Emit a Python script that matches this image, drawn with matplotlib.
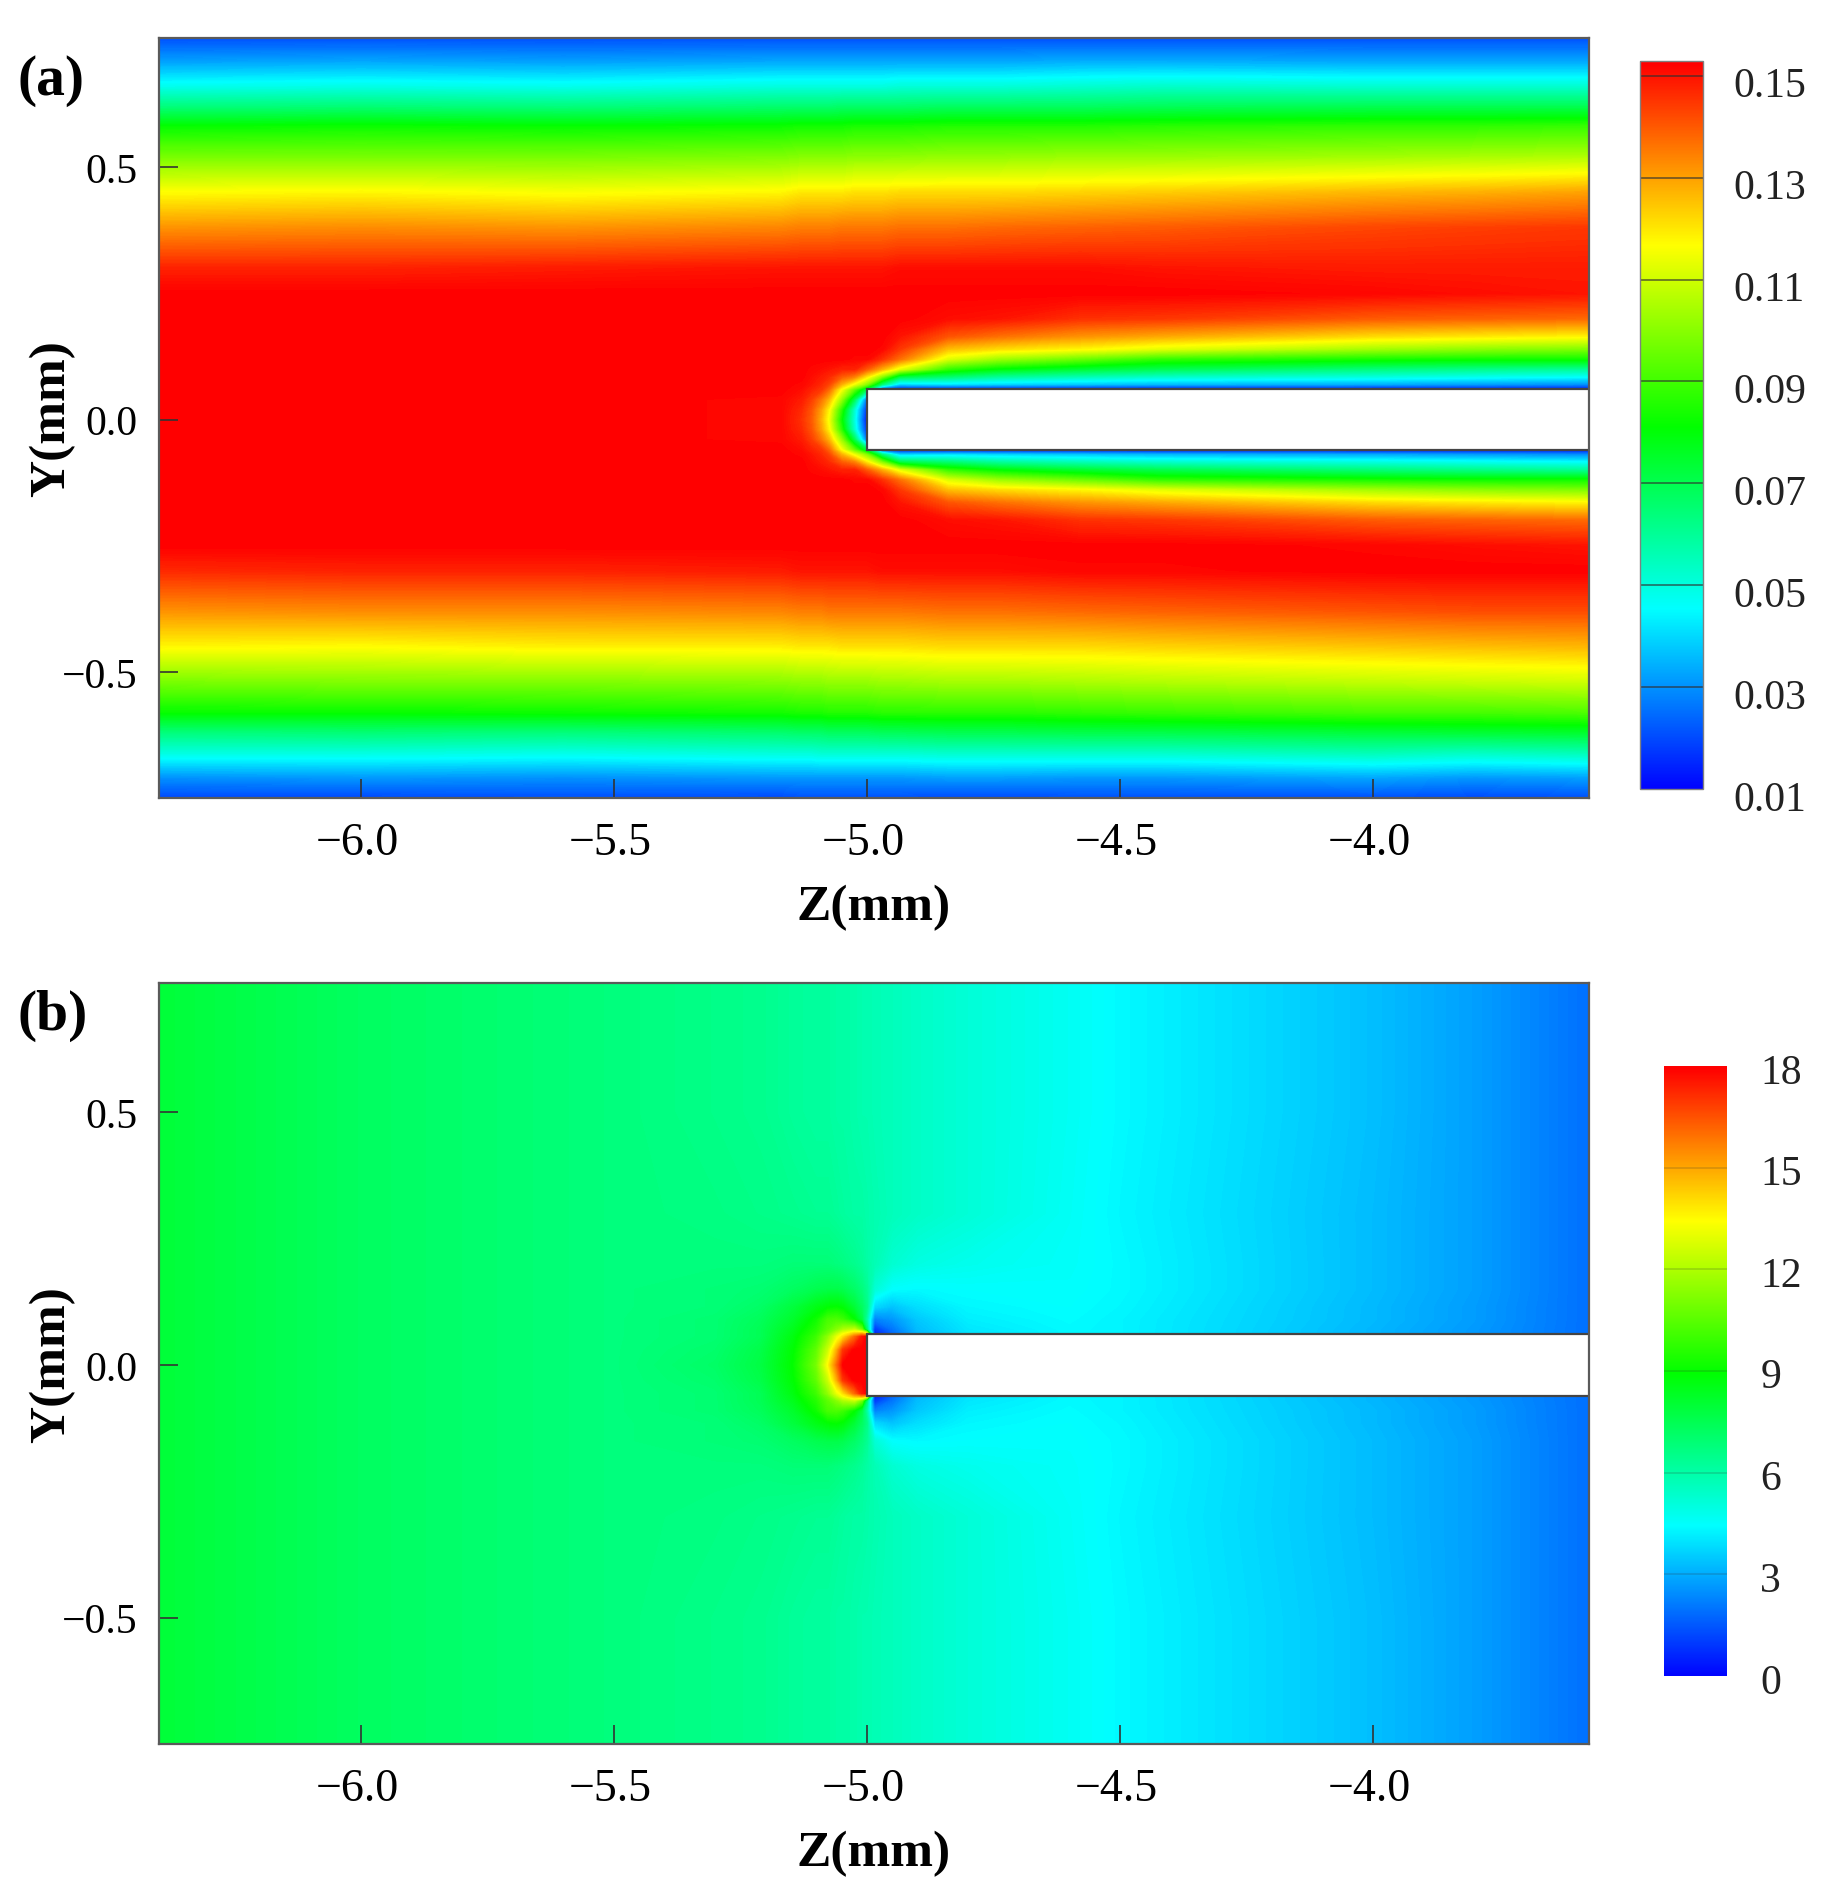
import numpy as np
import matplotlib
matplotlib.use("Agg")
import matplotlib.pyplot as plt
from matplotlib import colors
from matplotlib.cm import ScalarMappable
from matplotlib.patches import Rectangle
from matplotlib.transforms import ScaledTranslation

plt.rcParams['font.family'] = ['Liberation Serif', 'DejaVu Serif']

W, H = 1830, 1899

# ---------- panel (a), values ----------
z_a = [-6.4, -6.0, -5.6, -5.17, -5.13, -5.11, -5.09, -5.075, -5.05, -5.025, -5.0, -4.97, -4.935,
       -4.84, -4.74, -4.58, -4.42, -4.0, -3.8, -3.573]

y_a_bottom = [-0.75, -0.71, -0.66, -0.62, -0.58, -0.52, -0.45, -0.38, -0.30]
v_a_bottom = [
    [.020, .020, .021, .020, .021, .021, .021, .021, .021, .021, .021, .021, .021, .020, .020, .021, .021, .021, .020, .021],
    [.030, .031, .030, .031, .031, .031, .031, .031, .031, .031, .031, .031, .031, .032, .032, .031, .031, .033, .031, .032],
    [.050, .050, .049, .051, .051, .051, .052, .052, .052, .052, .052, .052, .052, .053, .053, .053, .053, .056, .054, .056],
    [.064, .065, .064, .066, .067, .067, .067, .068, .068, .068, .068, .069, .069, .070, .070, .071, .071, .073, .074, .075],
    [.082, .082, .083, .084, .085, .085, .085, .086, .086, .086, .086, .087, .087, .087, .087, .088, .089, .091, .091, .092],
    [.098, .099, .099, .100, .101, .101, .101, .102, .102, .102, .102, .103, .103, .104, .104, .105, .106, .108, .109, .110],
    [.118, .117, .119, .119, .120, .120, .120, .120, .121, .121, .121, .121, .121, .122, .122, .122, .123, .125, .126, .127],
    [.132, .133, .133, .134, .135, .135, .135, .136, .136, .136, .136, .136, .136, .137, .137, .138, .139, .141, .142, .142],
    [.147, .148, .148, .149, .150, .150, .150, .150, .150, .150, .150, .151, .151, .151, .151, .152, .152, .153, .153, .153],
]

# wake of the blade, used for both sides of y = 0
y_a_wake = [0.0, 0.02, 0.04, 0.06, 0.07, 0.085, 0.10, 0.12, 0.14, 0.165, 0.20, 0.25]
v_a_wake = [
    [.153, .153, .153, .152, .146, .140, .128, .115, .082, .050, .012, .012, .012, .012, .012, .012, .012, .012, .012, .012],
    [.153, .153, .153, .152, .147, .141, .130, .118, .087, .052, .016, .012, .012, .012, .012, .012, .012, .012, .012, .012],
    [.153, .153, .153, .152, .149, .144, .136, .127, .102, .070, .025, .012, .012, .012, .012, .012, .012, .012, .012, .012],
    [.153, .153, .153, .153, .151, .148, .145, .138, .116, .095, .070, .020, .012, .012, .012, .012, .012, .012, .012, .012],
    [.153, .153, .153, .153, .152, .150, .147, .143, .128, .115, .100, .065, .040, .042, .040, .038, .036, .034, .032, .030],
    [.153, .153, .153, .153, .153, .151, .149, .147, .140, .135, .120, .100, .072, .066, .060, .056, .053, .050, .048, .046],
    [.153, .153, .153, .153, .153, .152, .151, .150, .148, .148, .140, .128, .113, .088, .080, .074, .070, .064, .062, .060],
    [.153, .153, .153, .153, .153, .153, .153, .153, .153, .152, .152, .146, .137, .112, .103, .096, .088, .084, .083, .083],
    [.153, .153, .153, .153, .153, .153, .153, .153, .153, .153, .153, .152, .145, .126, .122, .118, .113, .104, .101, .099],
    [.153, .153, .153, .153, .153, .153, .153, .153, .153, .153, .153, .153, .150, .141, .137, .132, .129, .122, .120, .118],
    [.153, .153, .153, .153, .153, .153, .153, .153, .153, .153, .153, .153, .153, .151, .150, .146, .145, .140, .139, .138],
    [.153, .153, .153, .153, .153, .153, .153, .153, .153, .153, .153, .153, .153, .153, .153, .153, .153, .152, .151, .150],
]

y_a_top = [0.30, 0.38, 0.45, 0.52, 0.58, 0.62, 0.66, 0.71, 0.756]
v_a_top = [
    [.148, .148, .149, .150, .150, .150, .150, .150, .150, .150, .150, .150, .151, .151, .151, .151, .150, .149, .149, .149],
    [.132, .133, .132, .134, .135, .135, .135, .135, .136, .136, .136, .136, .137, .137, .138, .139, .140, .143, .144, .145],
    [.117, .118, .116, .118, .120, .120, .120, .120, .120, .121, .121, .121, .122, .122, .122, .123, .124, .127, .128, .130],
    [.098, .098, .098, .099, .100, .100, .100, .100, .100, .101, .101, .101, .101, .102, .102, .103, .103, .104, .105, .106],
    [.082, .083, .082, .083, .084, .084, .084, .084, .084, .085, .085, .085, .085, .086, .086, .086, .087, .088, .088, .089],
    [.064, .065, .064, .066, .066, .066, .066, .066, .067, .067, .067, .067, .067, .068, .068, .068, .069, .070, .070, .070],
    [.048, .049, .048, .050, .050, .050, .050, .050, .050, .050, .050, .050, .051, .051, .051, .052, .053, .052, .052, .052],
    [.032, .033, .032, .033, .033, .033, .033, .033, .033, .033, .033, .033, .033, .033, .033, .034, .034, .033, .033, .033],
    [.021, .021, .021, .021, .021, .021, .021, .021, .021, .021, .021, .021, .021, .021, .021, .021, .021, .021, .021, .021],
]

# ---------- panel (b), values ----------
z_b = [-6.4, -6.0, -5.5, -5.3, -5.21, -5.146, -5.10, -5.077, -5.06, -5.047, -5.025, -5.01, -5.0,
       -4.985, -4.95, -4.9, -4.8, -4.6, -4.5, -4.0, -3.8, -3.573]

y_b = [0.0, 0.03, 0.056, 0.062, 0.07, 0.09, 0.115, 0.15, 0.20, 0.30, 0.50, 0.756]
v_b = [
    [8.0, 7.3, 6.8, 7.2, 7.8, 9.0, 11.0, 13.5, 16.0, 18.0, 18.0, 18.0, 18.0, 0.4, 1.8, 3.2, 4.0, 4.4, 4.3, 3.2, 2.7, 1.95],
    [8.0, 7.3, 6.8, 7.1, 7.7, 8.9, 10.6, 12.5, 14.8, 17.0, 18.0, 18.0, 18.0, 0.4, 1.8, 3.2, 4.0, 4.4, 4.3, 3.2, 2.7, 1.95],
    [8.0, 7.3, 6.8, 7.0, 7.5, 8.7, 10.0, 11.5, 13.0, 14.0, 16.0, 17.5, 18.0, 0.4, 1.8, 3.2, 4.0, 4.4, 4.3, 3.2, 2.7, 1.95],
    [8.0, 7.3, 6.8, 7.0, 7.5, 8.6, 9.8, 11.0, 12.3, 13.3, 14.5, 15.0, 14.0, 0.4, 1.8, 3.2, 4.0, 4.4, 4.3, 3.2, 2.7, 1.95],
    [8.0, 7.3, 6.8, 7.0, 7.5, 8.5, 9.6, 10.6, 11.3, 12.0, 12.5, 11.0, 7.0, 0.9, 2.0, 3.3, 4.05, 4.4, 4.3, 3.2, 2.7, 1.95],
    [8.0, 7.3, 6.8, 7.0, 7.4, 8.2, 9.2, 10.2, 10.3, 10.0, 9.0, 7.8, 6.0, 2.2, 2.6, 3.5, 4.2, 4.45, 4.3, 3.25, 2.75, 1.95],
    [8.0, 7.3, 6.8, 6.9, 7.2, 7.9, 8.6, 8.9, 9.0, 8.8, 8.0, 7.3, 6.6, 3.8, 3.4, 3.9, 4.35, 4.5, 4.35, 3.25, 2.75, 1.95],
    [8.0, 7.3, 6.8, 6.9, 7.0, 7.3, 7.6, 7.7, 7.7, 7.6, 7.2, 6.8, 6.4, 5.2, 4.5, 4.4, 4.5, 4.55, 4.4, 3.3, 2.8, 1.95],
    [8.0, 7.3, 6.8, 6.8, 6.8, 6.9, 6.9, 6.9, 6.8, 6.7, 6.5, 6.3, 6.1, 5.8, 5.3, 5.0, 4.8, 4.6, 4.4, 3.3, 2.8, 1.95],
    [8.0, 7.3, 6.8, 6.7, 6.6, 6.5, 6.4, 6.4, 6.3, 6.2, 6.1, 6.1, 6.0, 5.9, 5.7, 5.5, 5.2, 4.65, 4.35, 3.3, 2.8, 1.95],
    [8.0, 7.3, 6.8, 6.6, 6.5, 6.3, 6.2, 6.2, 6.1, 6.1, 6.0, 5.9, 5.9, 5.8, 5.7, 5.5, 5.2, 4.7, 4.4, 3.35, 2.8, 1.95],
    [8.0, 7.3, 6.8, 6.6, 6.5, 6.3, 6.2, 6.2, 6.1, 6.1, 6.0, 5.9, 5.9, 5.8, 5.7, 5.5, 5.2, 4.7, 4.4, 3.35, 2.8, 1.95],
]

x_ticks = [-6.0, -5.5, -5.0, -4.5, -4.0]
y_ticks = [-0.5, 0.0, 0.5]
cbar_a_ticks = [0.01, 0.03, 0.05, 0.07, 0.09, 0.11, 0.13, 0.15]
cbar_a_labels = ['0.01', '0.03', '0.05', '0.07', '0.09', '0.11', '0.13', '0.15']
cbar_b_ticks = [0, 3, 6, 9, 12, 15, 18]
cbar_b_labels = ['0', '3', '6', '9', '12', '15', '18']

rainbow = colors.LinearSegmentedColormap.from_list(
    'small_rainbow', ['#0000ff', '#00ffff', '#00ff00', '#ffff00', '#ff0000'], N=512)
SPINE = '#5a5a5a'


def add_axes_px(left, top, right, bottom):
    return fig.add_axes([left / W, 1 - bottom / H, (right - left) / W, (bottom - top) / H])


def draw_panel(ax, z, y, v, norm, letter, letter_y):
    levels = np.linspace(norm.vmin, norm.vmax, 257)
    ax.contourf(z, y, v, levels=levels, cmap=rainbow, norm=norm, extend='both')
    ax.add_patch(Rectangle((-5.0, -0.0605), 1.43, 0.121, facecolor='white',
                           edgecolor='#444444', linewidth=1.6, zorder=3))
    ax.set_xlim(-6.4, -3.573)
    ax.set_ylim(-0.75, 0.756)
    ax.set_xticks(x_ticks)
    ax.set_xticklabels(['\u2212%.1f' % abs(t) for t in x_ticks])
    ax.set_yticks(y_ticks)
    ax.set_yticklabels(['\u22120.5', '0.0', '0.5'])
    ax.tick_params(axis='x', direction='in', length=14, width=1.2, labelsize=33, pad=17, color='#333333')
    ax.tick_params(axis='y', direction='in', length=14, width=1.2, labelsize=30, pad=15, color='#333333')
    # x labels sit a little left of their ticks in the original
    shift = ScaledTranslation(-2.5 / 72, 0, fig.dpi_scale_trans)
    for lab in ax.get_xticklabels():
        lab.set_transform(lab.get_transform() + shift)
    for s in ax.spines.values():
        s.set_color(SPINE)
        s.set_linewidth(1.6)
        s.set_zorder(4)
    ax.set_xlabel('Z(mm)', fontsize=37, fontweight='bold', labelpad=14)
    ax.set_ylabel('Y(mm)', fontsize=37, fontweight='bold')
    ax.yaxis.set_label_coords(-(158.5 - 75) / 1430.5, 0.5)
    fig.text(17 / W, 1 - letter_y / H, letter, fontsize=41.5, fontweight='bold', va='center', ha='left')


def draw_cbar(cax, norm, ticks, labels, line_color, line_alpha, dx, dy, edge):
    cb = fig.colorbar(ScalarMappable(norm=norm, cmap=rainbow), cax=cax)
    cb.solids.set_edgecolor('face')
    cb.set_ticks([])
    cb.outline.set_edgecolor(edge)
    cb.outline.set_linewidth(1.0 if edge != 'none' else 0)
    for t, lab in zip(ticks, labels):
        if norm.vmin < t < norm.vmax:
            cax.axhline(t, color=line_color, alpha=line_alpha, linewidth=1.2)
        cax.annotate(lab, xy=(1, t), xycoords=('axes fraction', 'data'), xytext=(dx, -dy),
                     textcoords='offset points', fontsize=30, va='center', ha='left', color='#222222',
                     annotation_clip=False)


fig = plt.figure(figsize=(W / 100, H / 100), dpi=100)

# panel a
y_a = np.concatenate([y_a_bottom, -np.array(y_a_wake[:0:-1]), y_a_wake, y_a_top])
v_a = np.vstack([v_a_bottom, v_a_wake[:0:-1], v_a_wake, v_a_top])
norm_a = colors.Normalize(0.01, 0.1529)
ax_a = add_axes_px(158.5, 39, 1589, 799)
draw_panel(ax_a, z_a, y_a, v_a, norm_a, '(a)', 81)
cax_a = add_axes_px(1640, 62, 1703, 790)
draw_cbar(cax_a, norm_a, cbar_a_ticks, cbar_a_labels, '#303030', 0.7, 22, 7.5, '#808080')

# panel b
y_b_full = np.concatenate([-np.array(y_b[:0:-1]), y_b])
v_b_full = np.vstack([v_b[:0:-1], v_b])
norm_b = colors.Normalize(0, 18)
ax_b = add_axes_px(158.5, 984, 1589, 1745)
draw_panel(ax_b, z_b, y_b_full, v_b_full, norm_b, '(b)', 1016)
cax_b = add_axes_px(1664, 1067, 1727, 1677)
draw_cbar(cax_b, norm_b, cbar_b_ticks, cbar_b_labels, '#303030', 0.2, 24, 4.5, 'none')

fig.savefig('out.png', dpi=100)
plt.close(fig)
